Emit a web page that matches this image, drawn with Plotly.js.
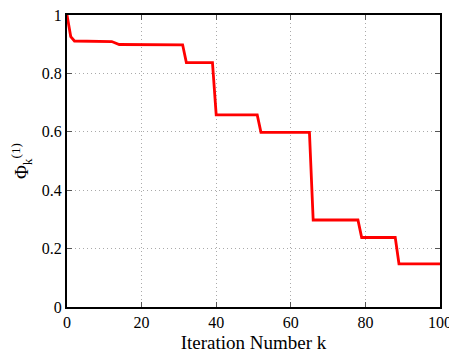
<!DOCTYPE html>
<html><head><meta charset="utf-8">
<script src="https://cdn.plot.ly/plotly-3.0.1.min.js"></script>
<style>html,body{margin:0;padding:0;background:#fff}</style>
</head><body>
<div id="chart" style="width:449px;height:353px"></div>
<script>
const iterations = [0, 1, 2, 12, 14, 31, 32, 39, 40, 51, 52, 65, 66, 78, 79, 88, 89, 100];
const phiValues  = [1.0, 0.926, 0.911, 0.909, 0.899, 0.898, 0.837, 0.837, 0.658, 0.658, 0.598, 0.598, 0.298, 0.298, 0.238, 0.238, 0.148, 0.148];
const xTicks = [0, 20, 40, 60, 80, 100];
const yTicks = [0, 0.2, 0.4, 0.6, 0.8, 1];

const FAM = "'Liberation Serif', 'Times New Roman', serif";
const axisCommon = {
  showline: true, linecolor: '#000', linewidth: 2, mirror: 'ticks',
  ticks: 'inside', ticklen: 5, tickcolor: '#555', tickwidth: 1,
  showgrid: true, gridcolor: '#aaa', griddash: '1px,3px', gridwidth: 1,
  zeroline: false, ticklabeloverflow: 'allow',
  tickfont: {family: FAM, size: 16, color: '#000'}
};
Plotly.newPlot('chart', [{
  x: iterations, y: phiValues, mode: 'lines', type: 'scatter',
  line: {color: '#ff0000', width: 2.8}
}], {
  width: 449, height: 353,
  font: {family: FAM, color: '#000', size: 16},
  margin: {l: 67, r: 9, t: 15, b: 46},
  paper_bgcolor: '#fff', plot_bgcolor: '#fff',
  showlegend: false,
  xaxis: {...axisCommon, range: [0, 100], tickvals: xTicks, ticktext: xTicks.map(String),
    title: {text: 'Iteration Number k', font: {family: FAM, size: 19, color: '#000'}, standoff: 6}},
  yaxis: {...axisCommon, range: [0, 1], tickvals: yTicks, ticktext: yTicks.map(String),
    title: {text: 'Φ<sub>k</sub><sup>(1)</sup>', font: {family: FAM, size: 19, color: '#000'}, standoff: 8}}
}, {displayModeBar: false, staticPlot: true});
</script>
</body></html>
